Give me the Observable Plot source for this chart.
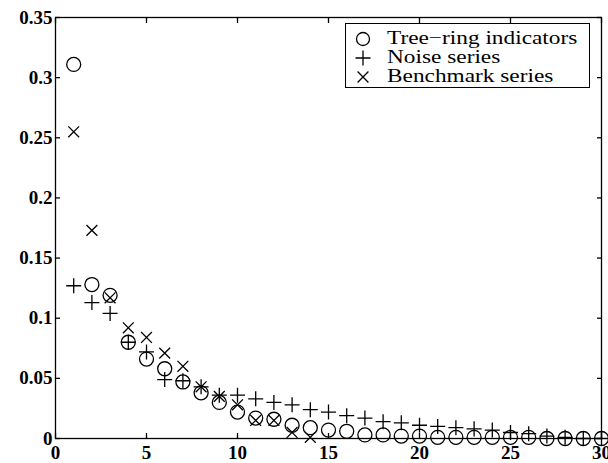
<!DOCTYPE html>
<html>
<head>
<meta charset="utf-8">
<script src="https://cdn.jsdelivr.net/npm/d3@7"></script>
<script src="https://cdn.jsdelivr.net/npm/@observablehq/plot@0.6"></script>
<style>
  body { margin: 0; background: #fff; }
  #wrap { position: relative; width: 608px; height: 463px; }
  #legend { position: absolute; left: 345px; top: 23px; width: 245px; height: 65px; box-sizing: border-box;
    border: 1.3px solid #000; background: #fff; padding: 5px 0 0 0;
    font-family: "Liberation Serif", "DejaVu Serif", serif; font-size: 18.5px; color: #000; }
  .row { display: flex; align-items: center; height: 19px; line-height: 19px; }
  .row svg { margin-left: 8px; margin-right: 15px; flex: none; }
  .row span { display: inline-block; transform: scaleX(1.26); transform-origin: left center; white-space: nowrap; }
</style>
</head>
<body>
<div id="wrap"></div>
<script>
const lags = d3.range(1, 31);
const treeRing = [0.311, 0.128, 0.119, 0.080, 0.066, 0.058, 0.047, 0.038, 0.030, 0.022,
                  0.017, 0.016, 0.011, 0.009, 0.007, 0.006, 0.003, 0.003, 0.002, 0.002,
                  0.001, 0.001, 0.001, 0.001, 0.001, 0.001, 0.000, 0.000, 0.000, 0.000];
const noise = [0.127, 0.113, 0.104, 0.080, 0.072, 0.049, 0.048, 0.043, 0.036, 0.036,
               0.033, 0.030, 0.028, 0.024, 0.022, 0.019, 0.017, 0.014, 0.013, 0.011,
               0.010, 0.009, 0.008, 0.007, 0.005, 0.004, 0.002, 0.001, 0.000, 0.000];
const benchmarkLags = d3.range(1, 15);
const benchmark = [0.255, 0.173, 0.117, 0.092, 0.084, 0.071, 0.060, 0.043, 0.035, 0.028,
                   0.015, 0.015, 0.005, 0.001];
const xTicks = [0, 5, 10, 15, 20, 25, 30];
const yTicks = [0, 0.05, 0.1, 0.15, 0.2, 0.25, 0.3, 0.35];
const yTickLabels = ["0", "0.05", "0.1", "0.15", "0.2", "0.25", "0.3", "0.35"];
const seriesNames = ["Tree\u2212ring indicators", "Noise series", "Benchmark series"];
const seriesSymbols = ["circle", "plus", "times"];

const treeData = lags.map((l, i) => ({lag: l, v: treeRing[i]}));
const noiseData = lags.map((l, i) => ({lag: l, v: noise[i]}));
const benchData = benchmarkLags.map((l, i) => ({lag: l, v: benchmark[i]}));

const font = '"Liberation Serif", "DejaVu Serif", serif';
const sw = 1.3;

const chart = Plot.plot({
  width: 608,
  height: 463,
  marginLeft: 55,
  marginRight: 7,
  marginTop: 17,
  marginBottom: 25,
  style: {fontFamily: font, fontSize: "19px", fontWeight: "bold", color: "#000", background: "#fff", overflow: "visible"},
  x: {domain: [0, 30]},
  y: {domain: [0, 0.35]},
  marks: [
    Plot.frame({stroke: "#000", strokeWidth: sw}),
    Plot.axisX({anchor: "bottom", ticks: xTicks, tickSize: -5, tickPadding: 12, label: null, strokeWidth: sw}),
    Plot.axisX({anchor: "top", ticks: xTicks, tickSize: -5, tickFormat: () => "", label: null, strokeWidth: sw}),
    Plot.axisY({anchor: "left", ticks: yTicks, tickSize: -5, tickPadding: 8, label: null, strokeWidth: sw,
                tickFormat: (d) => yTickLabels[yTicks.indexOf(d)]}),
    Plot.axisY({anchor: "right", ticks: yTicks, tickSize: -5, tickFormat: () => "", label: null, strokeWidth: sw}),
    Plot.dot(treeData, {x: "lag", y: "v", r: 7, symbol: "circle", fill: "none", stroke: "#000", strokeWidth: sw}),
    Plot.dot(noiseData, {x: "lag", y: "v", r: 4.9, symbol: "plus", fill: "none", stroke: "#000", strokeWidth: sw}),
    Plot.dot(benchData, {x: "lag", y: "v", r: 5.0, symbol: "times", fill: "none", stroke: "#000", strokeWidth: sw})
  ]
});
document.getElementById("wrap").appendChild(chart);

// Legend
const legend = document.createElement("div");
legend.id = "legend";
const symMap = {circle: d3.symbolCircle, plus: d3.symbolPlus, times: d3.symbolTimes};
const symSize = {circle: Math.PI * 6 * 6, plus: Math.PI * 4.9 * 4.9, times: Math.PI * 5 * 5};
seriesNames.forEach((name, i) => {
  const row = document.createElement("div");
  row.className = "row";
  const s = d3.create("svg").attr("width", 18).attr("height", 18);
  const key = seriesSymbols[i];
  if (key === "circle") {
    s.append("circle").attr("cx", 9).attr("cy", 9).attr("r", 6.5).attr("fill", "none").attr("stroke", "#000").attr("stroke-width", sw);
  } else {
    s.append("path").attr("transform", "translate(9,9)")
      .attr("d", d3.symbol(symMap[key], symSize[key])())
      .attr("fill", "none").attr("stroke", "#000").attr("stroke-width", sw);
  }
  row.appendChild(s.node());
  const t = document.createElement("span");
  t.textContent = name;
  row.appendChild(t);
  legend.appendChild(row);
});
document.getElementById("wrap").appendChild(legend);
</script>
</body>
</html>
